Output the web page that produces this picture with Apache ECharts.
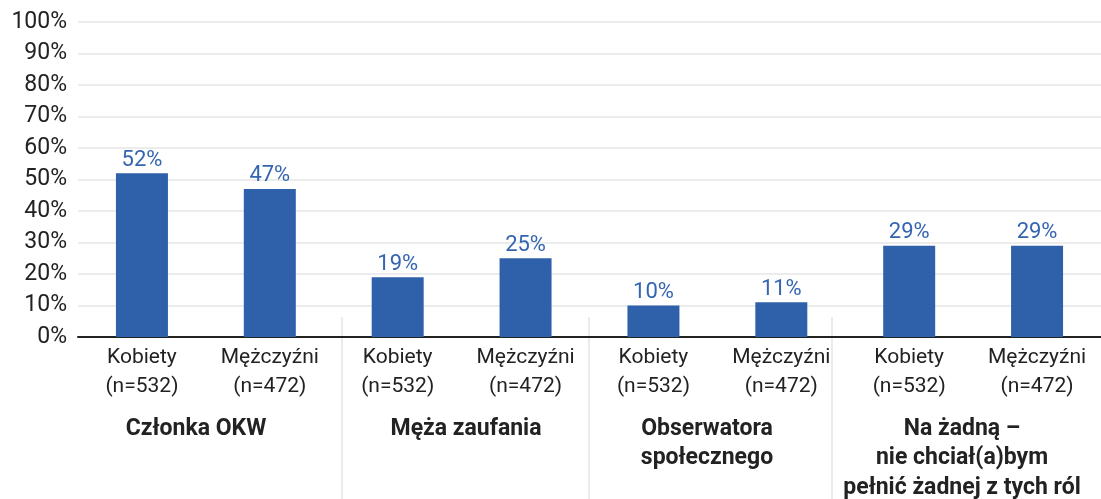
<!DOCTYPE html>
<html>
<head>
<meta charset="utf-8">
<script src="https://cdn.jsdelivr.net/npm/echarts@6/dist/echarts.min.js"></script>
<style>
  html, body { margin: 0; padding: 0; background: #fff; }
  #chart { width: 1101px; height: 499px; }
</style>
</head>
<body>
<div id="chart"></div>
<script>
// Respondent groups (one bar each) and the share who chose each role
const categories = [
  'Kobiety\n(n=532)', 'Mężczyźni\n(n=472)',
  'Kobiety\n(n=532)', 'Mężczyźni\n(n=472)',
  'Kobiety\n(n=532)', 'Mężczyźni\n(n=472)',
  'Kobiety\n(n=532)', 'Mężczyźni\n(n=472)'
];
const shares = [52, 47, 19, 25, 10, 11, 29, 29];
const roleNames = [
  'Członka OKW',
  'Męża zaufania',
  'Obserwatora\nspołecznego',
  'Na żadną –\nnie chciał(a)bym\npełnić żadnej z tych ról'
];

const FONT = 'Roboto, "Noto Sans", sans-serif';
const TEXT = '#222222';
const BLUE = '#2f61ab';

const chart = echarts.init(document.getElementById('chart'), null, { renderer: 'canvas' });

// Role headings under each pair of bars, plus thin dividers between roles
const roleCenters = [196, 466, 707, 962];
const dividerX = [342, 589, 832];

const graphics = [];
dividerX.forEach(x => graphics.push({
  type: 'line',
  shape: { x1: x, y1: 317, x2: x, y2: 499 },
  style: { stroke: '#e4e4e4', lineWidth: 1.5 },
  z: 0
}));
roleNames.forEach((name, i) => graphics.push({
  type: 'text',
  x: roleCenters[i],
  y: 414,
  style: {
    text: name,
    fontFamily: FONT,
    fontSize: 23,
    fontWeight: 'bold',
    fill: TEXT,
    align: 'center',
    verticalAlign: 'top',
    lineHeight: 29.5
  }
}));

chart.setOption({
  animation: false,
  backgroundColor: '#ffffff',
  textStyle: { fontFamily: FONT },
  grid: { left: 78, top: 22, width: 1024, height: 315 },
  xAxis: {
    type: 'category',
    data: categories,
    axisLine: { lineStyle: { color: TEXT, width: 2 } },
    axisTick: { show: false },
    axisLabel: {
      interval: 0,
      fontFamily: FONT,
      fontSize: 21,
      color: TEXT,
      lineHeight: 29,
      margin: 6
    }
  },
  yAxis: {
    type: 'value',
    min: 0,
    max: 100,
    interval: 10,
    axisLine: { show: false },
    axisTick: { show: false },
    axisLabel: {
      formatter: '{value}%',
      fontFamily: FONT,
      fontSize: 23,
      color: TEXT,
      margin: 11
    },
    splitLine: { lineStyle: { color: '#e6e6e6', width: 1.5 } }
  },
  series: [{
    type: 'bar',
    data: shares,
    barWidth: 52,
    itemStyle: { color: BLUE },
    label: {
      show: true,
      position: 'top',
      distance: 2,
      formatter: '{c}%',
      fontFamily: FONT,
      fontSize: 22,
      color: '#3565b0'
    }
  }],
  graphic: graphics
});
</script>
</body>
</html>
